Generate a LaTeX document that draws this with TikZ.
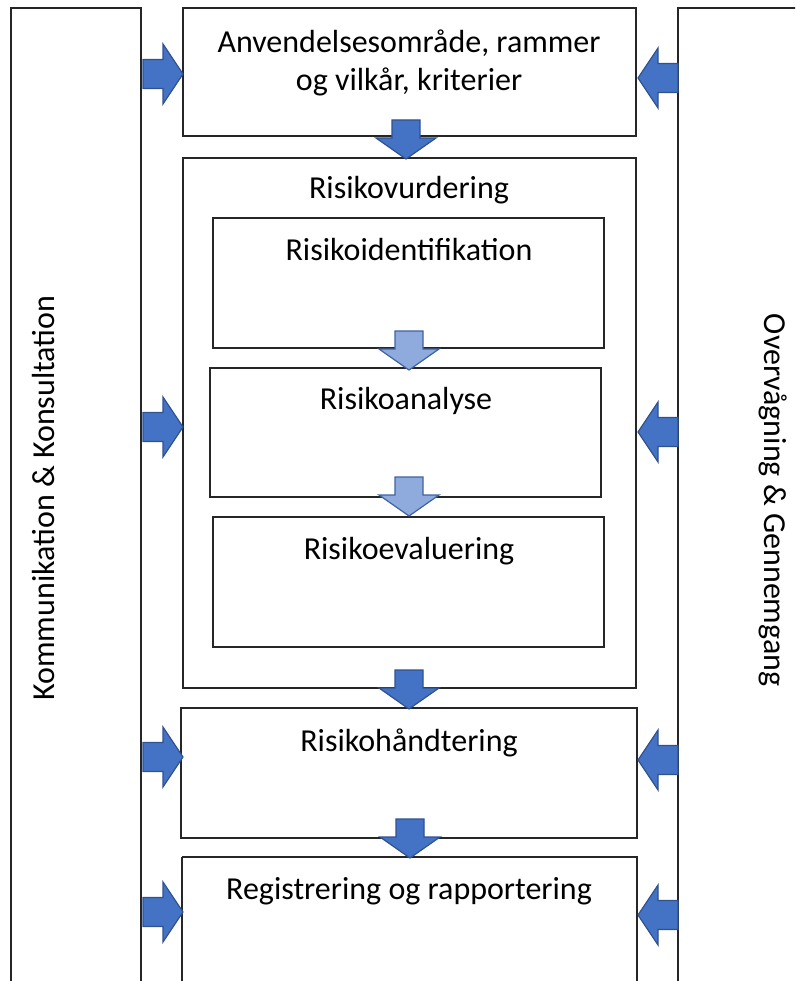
\documentclass[tikz,border=0pt]{standalone}
\usepackage{fontspec}
\setmainfont{Carlito}
\definecolor{arrfill}{HTML}{4472C4}
\definecolor{arredge}{HTML}{2F528F}
\definecolor{lightfill}{HTML}{8FAADC}
\definecolor{lightedge}{HTML}{3F63A0}
\definecolor{boxline}{HTML}{262626}
\begin{document}
\begin{tikzpicture}[x=1pt,y=-1pt,
  boxst/.style={draw=boxline,line width=1.3pt},
  lbl/.style={font=\fontsize{32}{38}\selectfont,align=center,inner sep=0pt},
  barrow/.style={fill=arrfill,draw=arredge,line width=1.2pt,line join=miter},
  larrow/.style={fill=lightfill,draw=lightedge,line width=1.2pt,line join=miter},
  pics/rightarr/.style={code={\path[pic actions] (-40,-14.5) -- (-20,-14.5) -- (-20,-30) -- (0,0) -- (-20,30) -- (-20,14.5) -- (-40,14.5) -- cycle;}},
  pics/leftarr/.style={code={\path[pic actions] (40,-14.5) -- (20,-14.5) -- (20,-30) -- (0,0) -- (20,30) -- (20,14.5) -- (40,14.5) -- cycle;}},
  pics/downarr/.style={code={\path[pic actions] (-14,-39) -- (14,-39) -- (14,-21) -- (30,-21) -- (0,0) -- (-30,-21) -- (-14,-21) -- cycle;}}
]
\useasboundingbox (0,0) rectangle (795,981);
\clip (0,0) rectangle (795,981);
% side boxes
\draw[boxst] (11,1000) -- (11,8) -- (141,8) -- (141,1000);
\draw[boxst] (678,1000) -- (678,8) -- (810,8);
\node[lbl,rotate=90] (komm) at (44,498) {Kommunikation \& Konsultation};
\node[lbl,rotate=-90] (overv) at (773,500) {Overvågning \& Gennemgang};
% main boxes
\draw[boxst] (183,8) rectangle (636,136);
\node[lbl] (anv) at (409,63) {Anvendelsesområde, rammer\\og vilkår, kriterier};
\draw[boxst] (183,158) rectangle (636,688);
\node[lbl] (vurd) at (409,190) {Risikovurdering};
\draw[boxst] (213,218) rectangle (604,348);
\node[lbl] (ident) at (409,250) {Risikoidentifikation};
\draw[boxst] (210,368) rectangle (601,497);
\node[lbl] (anal) at (406,401) {Risikoanalyse};
\draw[boxst] (213,517) rectangle (604,647);
\node[lbl] (eval) at (409,551) {Risikoevaluering};
\draw[boxst] (181,708) rectangle (637,838);
\node[lbl] (hand) at (409,743) {Risikohåndtering};
\draw[boxst] (182,857) -- (182,1000) (182,857) -- (637,857) -- (637,1000);
\node[lbl] (reg) at (409,891) {Registrering og rapportering};
% down arrows
\pic[barrow] at (406,159) {downarr};
\pic[larrow] at (409,370) {downarr};
\pic[larrow] at (409,516) {downarr};
\pic[barrow] at (409,709) {downarr};
\pic[barrow] at (410,858) {downarr};
% side arrows
\pic[barrow] at (183,74) {rightarr};
\pic[barrow] at (183,427) {rightarr};
\pic[barrow] at (183,757) {rightarr};
\pic[barrow] at (183,912) {rightarr};
\pic[barrow] at (638,78) {leftarr};
\pic[barrow] at (638,432) {leftarr};
\pic[barrow] at (638,760) {leftarr};
\pic[barrow] at (638,915) {leftarr};
\end{tikzpicture}
\end{document}
